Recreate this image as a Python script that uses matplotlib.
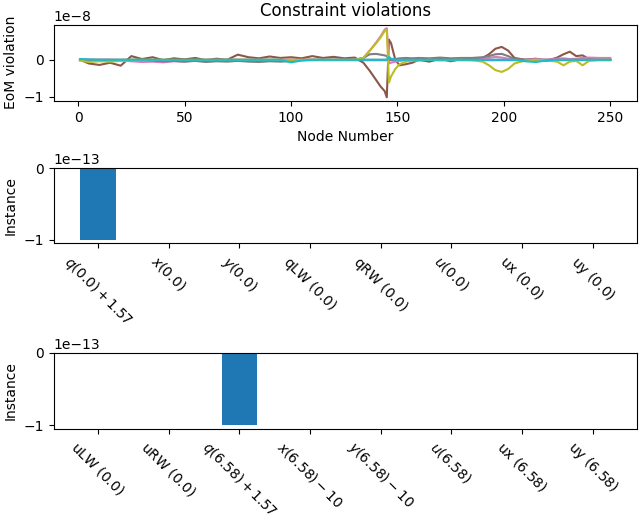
import matplotlib
matplotlib.use('Agg')
import matplotlib.pyplot as plt

nodes = [1, 5, 10, 15, 20, 25, 30, 35, 40, 45,
         50, 55, 60, 65, 70, 75, 80, 85, 90, 95,
         100, 105, 110, 115, 120, 125, 130, 134, 137, 140,
         142, 144, 145, 146, 147, 149, 151, 154, 157, 160,
         165, 170, 175, 180, 185, 190, 193, 196, 199, 202,
         205, 210, 215, 220, 225, 228, 231, 234, 237, 240,
         245, 250]

# EoM violations, units of 1e-8
flat = [0.0] * len(nodes)
brown = [0.0, -0.10, -0.14, -0.08, -0.16, 0.10, 0.02, 0.07, -0.01, 0.04,
         0.01, 0.05, -0.01, 0.03, 0.00, 0.14, 0.07, 0.04, 0.09, 0.05,
         0.07, 0.04, 0.10, 0.05, 0.08, 0.04, 0.06, -0.08, -0.30, -0.55,
         -0.72, -0.85, -1.02, 0.55, 0.45, 0.00, -0.15, -0.12, -0.08, 0.00,
         -0.05, 0.03, -0.04, 0.02, 0.00, 0.05, 0.15, 0.30, 0.35, 0.25,
         0.05, 0.00, 0.03, -0.03, 0.06, 0.15, 0.22, 0.10, 0.12, 0.02,
         0.00, 0.00]
pink = [0.0, 0.0, 0.0, 0.0, -0.02, -0.04, -0.06, -0.05, -0.07, -0.04,
        -0.05, -0.02, 0.0, 0.0, 0.0, 0.0, 0.0, 0.0, 0.0, 0.0,
        0.0, 0.0, 0.0, 0.0, 0.0, 0.0, 0.0, 0.05, 0.25, 0.47,
        0.63, 0.82, 0.86, -0.10, -0.08, -0.05, -0.03, 0.0, 0.0, 0.0,
        0.0, 0.0, 0.0, 0.0, 0.0, 0.02, 0.05, 0.08, 0.06, 0.03,
        0.0, 0.0, 0.02, 0.0, 0.03, 0.04, 0.02, 0.03, 0.05, 0.06,
        0.05, 0.05]
gray = [0.0, 0.0, 0.0, 0.0, 0.0, 0.0, 0.0, -0.02, -0.04, -0.03,
        -0.05, -0.03, -0.06, -0.04, -0.05, -0.03, -0.05, -0.06, -0.04, -0.05,
        -0.04, 0.0, 0.0, 0.0, 0.0, 0.0, 0.0, 0.05, 0.15, 0.16,
        0.14, 0.12, 0.10, 0.0, 0.0, 0.02, 0.04, 0.05, 0.04, 0.05,
        0.04, 0.06, 0.04, 0.05, 0.05, 0.07, 0.10, 0.15, 0.16, 0.10,
        0.02, 0.0, 0.0, 0.0, 0.0, 0.0, 0.0, 0.0, 0.0, 0.0,
        0.0, 0.0]
olive = [-0.02, -0.06, -0.04, -0.05, -0.03, 0.0, 0.0, 0.0, 0.0, 0.0,
         0.0, 0.0, 0.0, 0.0, 0.0, 0.0, 0.0, 0.0, 0.0, 0.0,
         0.0, 0.0, 0.0, 0.0, 0.0, 0.0, 0.0, 0.05, 0.25, 0.45,
         0.60, 0.78, 0.82, -0.62, -0.45, -0.25, -0.12, -0.05, -0.02, -0.02,
         0.0, -0.01, -0.01, 0.0, -0.01, -0.05, -0.15, -0.28, -0.33, -0.25,
         -0.10, -0.02, 0.0, -0.02, -0.05, -0.15, -0.05, -0.03, -0.15, -0.03,
         0.0, 0.0]
cyan = [0.02, 0.01, 0.0, 0.0, 0.0, 0.0, 0.0, 0.0, 0.0, 0.0,
        0.0, 0.0, 0.0, 0.0, 0.0, 0.0, 0.0, 0.0, 0.0, 0.0,
        -0.07, -0.02, 0.0, 0.0, 0.0, 0.0, 0.0, 0.0, 0.0, 0.0,
        0.0, 0.0, 0.0, 0.08, 0.03, 0.0, 0.0, 0.0, 0.0, 0.0,
        0.0, 0.0, 0.0, 0.0, 0.0, 0.0, 0.0, 0.0, 0.0, 0.0,
        0.0, -0.04, -0.06, -0.02, 0.0, 0.0, 0.0, 0.0, 0.0, 0.0,
        0.0, 0.0]
# default colour cycle order: blue, orange, green, red, purple, brown, pink, gray, olive, cyan
eom_series = [flat, flat, flat, flat, flat, brown, pink, gray, olive, cyan]

labels_start = [r'$q(0.0) + 1.57$', r'$x(0.0)$', r'$y(0.0)$',
                r'$\operatorname{qLW}\,(0.0)$', r'$\operatorname{qRW}\,(0.0)$',
                r'$u(0.0)$', r'$\operatorname{ux}\,(0.0)$', r'$\operatorname{uy}\,(0.0)$']
values_start = [-1.0, 0, 0, 0, 0, 0, 0, 0]  # units of 1e-13

labels_end = [r'$\operatorname{uLW}\,(0.0)$', r'$\operatorname{uRW}\,(0.0)$',
              r'$q(6.58) + 1.57$', r'$x(6.58) - 10$', r'$y(6.58) - 10$',
              r'$u(6.58)$', r'$\operatorname{ux}\,(6.58)$', r'$\operatorname{uy}\,(6.58)$']
values_end = [0, 0, -1.0, 0, 0, 0, 0, 0]

fig = plt.figure(figsize=(6.4, 5.25), dpi=100)

ax1 = fig.add_axes([0.084, 0.808, 0.911, 0.145])
for s in eom_series:
    ax1.plot(nodes, [v * 1e-8 for v in s])
ax1.set_title('Constraint violations')
ax1.set_xlabel('Node Number')
ax1.set_ylabel('EoM violation')

ax2 = fig.add_axes([0.084, 0.537, 0.911, 0.143])
ax2.bar(range(len(labels_start)), [v * 1e-13 for v in values_start], width=0.5)
ax2.set_xticks(range(len(labels_start)))
ax2.set_xticklabels(labels_start, rotation=-45)
ax2.set_ylabel('Instance')

ax3 = fig.add_axes([0.084, 0.183, 0.911, 0.145])
ax3.bar(range(len(labels_end)), [v * 1e-13 for v in values_end], width=0.5)
ax3.set_xticks(range(len(labels_end)))
ax3.set_xticklabels(labels_end, rotation=-45)
ax3.set_ylabel('Instance')

plt.savefig('out.png', dpi=100)
